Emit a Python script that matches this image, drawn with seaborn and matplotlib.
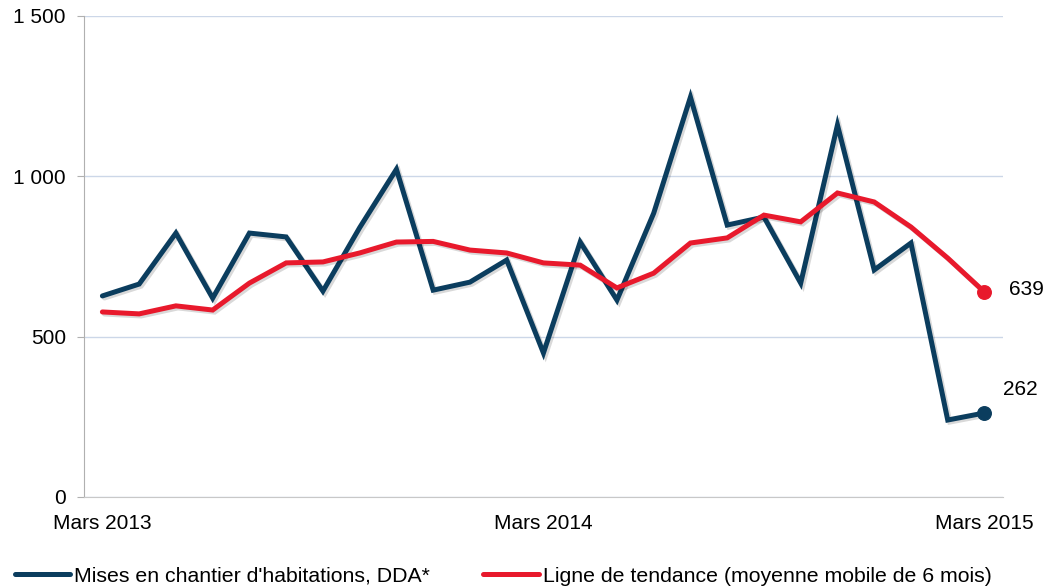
import numpy as np
import pandas as pd
import seaborn as sns
import matplotlib.pyplot as plt
import matplotlib.patheffects as pe

sns.set_style("white")
plt.rcParams['font.family'] = ['Liberation Sans', 'DejaVu Sans']

# mois de mars 2013 à mars 2015
mois = np.arange(25)
mises_en_chantier = [627, 664, 823, 620, 823, 811, 642, 840, 1022, 645, 670, 739, 449,
                     795, 614, 885, 1247, 848, 873, 667, 1160, 708, 792, 240, 262]
tendance = [577, 571, 596, 583, 667, 730, 733, 761, 795, 797, 770, 761, 730,
            723, 652, 698, 792, 808, 879, 858, 948, 920, 842, 745, 639]
tick_pos = [0, 12, 24]
tick_labels = ["Mars 2013", "Mars 2014", "Mars 2015"]
y_ticks = [0, 500, 1000, 1500]
y_labels = ["0", "500", "1 000", "1 500"]

nom_a = "Mises en chantier d'habitations, DDA*"
nom_b = "Ligne de tendance (moyenne mobile de 6 mois)"
df = pd.concat([
    pd.DataFrame({"mois": mois, "valeur": mises_en_chantier, "serie": nom_a}),
    pd.DataFrame({"mois": mois, "valeur": tendance, "serie": nom_b}),
])
bleu = "#0b3d5e"
rouge = "#e8192c"

fig = plt.figure(figsize=(10.49, 5.88), dpi=100)
ax = fig.add_axes([0.0801, 0.1548, 0.8759, 0.818])

shadow = [pe.SimpleLineShadow(offset=(1.5, -1.5), alpha=0.15), pe.Normal()]
sns.lineplot(data=df, x="mois", y="valeur", hue="serie", hue_order=[nom_a, nom_b],
             palette=[bleu, rouge], linewidth=3.6, ax=ax, legend=False)
for line in ax.get_lines():
    line.set_path_effects(shadow)
    line.set_solid_joinstyle("miter")

# points finaux
ax.scatter([mois[-1]], [mises_en_chantier[-1]], s=95, color=bleu, zorder=5)
ax.scatter([mois[-1]], [tendance[-1]], s=95, color=rouge, zorder=5)
ax.annotate(str(mises_en_chantier[-1]), (mois[-1], mises_en_chantier[-1]),
            xytext=(13, 13), textcoords="offset points", fontsize=15, color="black")
ax.annotate(str(tendance[-1]), (mois[-1], tendance[-1]),
            xytext=(18, -2), textcoords="offset points", fontsize=15, color="black")

ax.set_xlim(-0.5, 24.5)
ax.set_ylim(0, 1500)
ax.set_xticks(tick_pos)
ax.set_xticklabels(tick_labels, fontsize=15, color="black")
ax.set_yticks(y_ticks)
ax.set_yticklabels(y_labels, fontsize=15, color="black")
ax.set_xlabel("")
ax.set_ylabel("")
ax.yaxis.grid(True, color="#ccd7e8", linewidth=1)
ax.set_axisbelow(True)
for s in ["top", "right"]:
    ax.spines[s].set_visible(False)
ax.spines["left"].set_color("#b0b0b0")
ax.spines["bottom"].set_color("#c8c8c8")
ax.tick_params(axis="y", length=5, color="#b0b0b0", pad=8, left=True)
ax.tick_params(axis="x", length=0, pad=12)

handles = [plt.Line2D([], [], color=bleu, linewidth=3.6),
           plt.Line2D([], [], color=rouge, linewidth=3.6)]
leg = fig.legend(handles, [nom_a, nom_b], loc="lower left", bbox_to_anchor=(-0.004, -0.029),
                 ncol=2, frameon=False, fontsize=15.3, handlelength=2.6, handletextpad=0.2,
                 columnspacing=2.5)
for t in leg.get_texts():
    t.set_color("black")

fig.savefig("out.png", dpi=100)
